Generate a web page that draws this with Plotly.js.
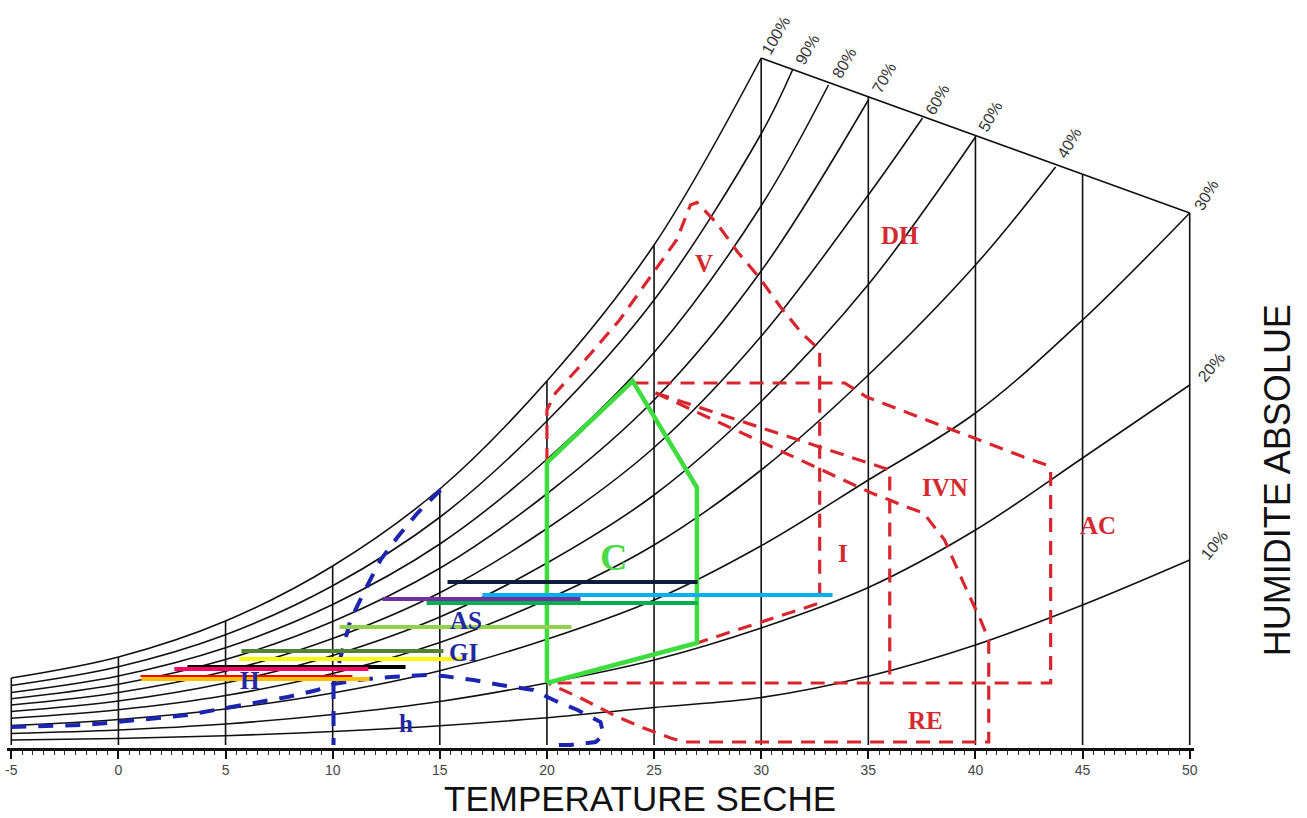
<!DOCTYPE html>
<html><head><meta charset="utf-8">
<script src="https://cdn.plot.ly/plotly-3.0.1.min.js"></script>
<style>html,body{margin:0;padding:0;background:#fff}#chart{width:1307px;height:818px}</style>
</head><body><div id="chart"></div>
<script>
// ---- axis / grid ----
const tickVals = [-5,0,5,10,15,20,25,30,35,40,45,50];
const tickLabels = ['-5','0','5','10','15','20','25','30','35','40','45','50'];
const gridTemps = [-5,0,5,10,15,20,25,30,35,40,45,50];
const gridTops  = [2.68,3.52,4.96,7.16,10.24,14.56,20.0,27.48,25.93,24.38,22.83,21.28];

// ---- relative humidity curves (temperature, absolute humidity) ----
const rhNames = ['100%','90%','80%','70%','60%','50%','40%','30%','20%','10%'];
const rh100T = [-5,0,5,10,15,20,25,30];
const rh100Y = [2.68,3.52,4.96,7.16,10.24,14.56,20.0,27.48];
const rh90T = [-5,0,5,10,15,20,25,30,31.46];
const rh90Y = [2.38,3.13,4.41,6.37,9.11,12.96,17.8,24.45,27.0];
const rh80T = [-5,0,5,10,15,20,25,30,33.14];
const rh80Y = [2.1,2.76,3.89,5.62,8.04,11.43,15.7,21.57,26.4];
const rh70T = [-5,0,5,10,15,20,25,30,35];
const rh70Y = [1.85,2.43,3.42,4.94,7.07,10.05,13.8,18.96,25.8];
const rh60T = [-5,0,5,10,15,20,25,30,35,37.53];
const rh60Y = [1.6,2.1,2.95,4.26,6.09,8.66,11.9,16.35,22.0,25.08];
const rh50T = [-5,0,5,10,15,20,25,30,35,40];
const rh50Y = [1.34,1.76,2.48,3.58,5.12,7.28,10.0,13.74,18.42,24.32];
const rh40T = [-5,0,5,10,15,20,25,30,35,40,43.74];
const rh40Y = [1.07,1.41,1.98,2.86,4.1,5.82,8.0,11.0,14.8,19.2,23.12];
const rh30T = [-5,0,5,10,15,20,25,30,35,40,45,50];
const rh30Y = [0.78,1.02,1.44,2.08,2.97,4.23,5.8,7.97,10.6,13.28,17.0,21.28];
const rh20T = [-5,0,5,10,15,20,25,30,35,40,45,50];
const rh20Y = [0.46,0.6,0.84,1.22,1.74,2.48,3.4,4.68,6.3,8.6,11.48,14.4];
const rh10T = [-5,0,5,10,15,20,25,30,35,40,45,50];
const rh10Y = [0.2,0.26,0.37,0.54,0.77,1.09,1.5,1.9,2.75,4.0,5.6,7.4];
const topEdgeT = [30,50];
const topEdgeY = [27.48,21.28];

// RH label positions
const rhLabelT = [30.67,32.17,33.85,35.71,38.24,40.71,44.35,50.75,50.98,51.12];
const rhLabelY = [28.4,27.8,27.28,26.68,25.8,25.12,24.08,22.0,15.12,8.0];
const rhLabelAngle = [-60,-60,-60,-60,-60,-60,-60,-60,-50,-50];

// ---- comfort zone C ----
const zoneCT = [20,20,24,26.5,27,27,20];
const zoneCY = [2.48,11.3,14.56,11.0,10.3,4.08,2.48];

// ---- red strategy zones ----
const zoneVT = [20,20,20.4,21.38,23.39,25.07,26.05,26.7,27.0,27.92,28.9,29.93,30.9,31.89,32.73,32.73,27.0];
const zoneVY = [11.32,13.4,14.08,15.0,17.0,19.0,20.2,21.6,21.7,20.88,19.72,18.68,17.52,16.48,15.8,5.68,4.08];
const zoneACT = [24.09,33.9,34.92,39.26,42.25,43.32,43.51,43.51,20.03];
const zoneACY = [14.48,14.48,13.92,12.48,11.52,11.2,11.0,2.48,2.48];
const zoneIVNaT = [25.07,36.0,36.0];
const zoneIVNaY = [14.08,11.0,2.48];
const zoneIVNbT = [25.07,29.09,35.15,36.0,36.55,37.58,38.56,39.59,40.24,40.62,40.62,26.38,25.77,24.51,23.3,21.57,20.5,20.03];
const zoneIVNbY = [14.08,12.48,10.08,9.8,9.6,9.28,8.2,6.2,5.0,4.2,0.12,0.12,0.28,0.68,1.12,1.88,2.32,2.48];

// ---- blue strategy zones ----
const zoneHT = [-5,-1.63,-0.05,1.82,3.22,4.76,6.3,7.89,9.29,10.04,11.16,12.7,14.43,15.17,16.57,17.83,19.37,20.31,21.43,22.5,22.64,22.27,21.1,20.03];
const zoneHY = [0.72,0.8,0.92,1.08,1.2,1.44,1.68,1.92,2.2,2.44,2.6,2.72,2.8,2.76,2.6,2.4,2.2,1.8,1.4,0.92,0.4,0.12,0,0];
const zoneSplitT = [10.04,10.04];
const zoneSplitY = [2.44,0];
const zoneGIT = [15.03,13.96,13.03,12.23,11.44,10.83,10.46,10.22,10.04];
const zoneGIY = [10.2,9.28,8.32,7.4,6.08,5.0,3.8,3.0,2.44];

// ---- zone labels ----
const redLabels = ['V','DH','I','IVN','AC','RE'];
const redLabelT = [27.31,36.5,33.8,38.6,45.7,37.68];
const redLabelY = [19.28,20.4,7.68,10.32,8.8,1.0];
const blueLabels = ['AS','GI','H','h'];
const blueLabelT = [16.2,16.1,6.16,13.4];
const blueLabelY = [5.0,3.72,2.6,0.88];

// ---- coloured horizontal climate lines ----
const climColors = ['#0d1b3d','#00b0f0','#7030a0','#00b050','#92d050','#548235','#ffff00','#000000','#ff0066','#ffc000','#ff0000'];
const climStartT = [15.36,16.99,12.32,14.38,10.32,5.74,5.65,3.22,2.61,1.07,1.03];
const climEndT   = [27.03,33.33,21.57,27.03,21.15,15.17,16.11,13.4,11.67,11.72,10.92];
const climY      = [6.52,6.0,5.84,5.68,4.72,3.76,3.44,3.12,3.04,2.64,2.76];
const climWidth  = [4,4,4,4,4,4,4,4,4,4,2];

// ---------------------------------------------------------------
const xRange = [-5.2,50.2];
const traces = [];
const rhT = [rh100T,rh90T,rh80T,rh70T,rh60T,rh50T,rh40T,rh30T,rh20T,rh10T];
const rhY = [rh100Y,rh90Y,rh80Y,rh70Y,rh60Y,rh50Y,rh40Y,rh30Y,rh20Y,rh10Y];
rhT.forEach((t,i)=>traces.push({x:t,y:rhY[i],mode:'lines',name:rhNames[i],
  line:{color:'#111',width:1.6,shape:'spline',smoothing:1}}));
traces.push({x:topEdgeT,y:topEdgeY,mode:'lines',line:{color:'#111',width:1.6}});
const vx=[],vy=[];
gridTemps.forEach((t,i)=>{vx.push(t,t,null);vy.push(0,gridTops[i],null);});
traces.push({x:vx,y:vy,mode:'lines',line:{color:'#111',width:1.6}});

const red = '#d8262e', redDash='14px,9px';
[[zoneVT,zoneVY],[zoneACT,zoneACY],[zoneIVNaT,zoneIVNaY],[zoneIVNbT,zoneIVNbY]].forEach(z=>
  traces.push({x:z[0],y:z[1],mode:'lines',line:{color:red,width:3.2,dash:redDash}}));
const blue = '#1c25b0', blueDash='15px,12px';
[[zoneHT,zoneHY],[zoneSplitT,zoneSplitY],[zoneGIT,zoneGIY]].forEach(z=>
  traces.push({x:z[0],y:z[1],mode:'lines',line:{color:blue,width:4,dash:blueDash}}));
traces.push({x:zoneCT,y:zoneCY,mode:'lines',line:{color:'#3fdc3f',width:4.5}});

climColors.forEach((c,i)=>traces.push({x:[climStartT[i],climEndT[i]],y:[climY[i],climY[i]],
  mode:'lines',line:{color:c,width:climWidth[i]}}));

const yRange = [-0.12,29];
const toPaperX = t => (t-xRange[0])/(xRange[1]-xRange[0]);
const toPaperY = v => (v-yRange[0])/(yRange[1]-yRange[0]);
const ann = [];
rhNames.forEach((n,i)=>ann.push({x:toPaperX(rhLabelT[i]),y:toPaperY(rhLabelY[i]),xref:'paper',yref:'paper',
  xanchor:'center',yanchor:'middle',text:n,showarrow:false,
  textangle:rhLabelAngle[i],font:{family:'Liberation Sans, Arial',size:16,color:'#333'}}));
redLabels.forEach((n,i)=>ann.push({x:redLabelT[i],y:redLabelY[i],xref:'x',yref:'y',text:'<b>'+n+'</b>',showarrow:false,
  font:{family:'Liberation Serif, Times New Roman',size:25,color:'#d42a2f'}}));
blueLabels.forEach((n,i)=>ann.push({x:blueLabelT[i],y:blueLabelY[i],xref:'x',yref:'y',text:'<b>'+n+'</b>',showarrow:false,
  font:{family:'Liberation Serif, Times New Roman',size:25,color:'#2228a0'}}));
ann.push({x:23.1,y:7.52,xref:'x',yref:'y',text:'<b>C</b>',showarrow:false,
  font:{family:'Liberation Serif, Times New Roman',size:38,color:'#4cd94c'}});
ann.push({x:0.533,y:-0.069,xref:'paper',yref:'paper',xanchor:'center',yanchor:'middle',text:'TEMPERATURE SECHE',showarrow:false,
  font:{family:'Liberation Sans, Arial',size:35,color:'#111'}});
ann.push({x:1.07,y:0.368,xref:'paper',yref:'paper',xanchor:'center',yanchor:'middle',text:'HUMIDITE ABSOLUE',showarrow:false,textangle:-90,
  font:{family:'Liberation Sans, Arial',size:36,color:'#111'}});

const layout = {
  width:1307,height:818,margin:{l:7,r:113,t:20,b:70},
  paper_bgcolor:'#fff',plot_bgcolor:'#fff',showlegend:false,hovermode:false,
  xaxis:{range:xRange,tickvals:tickVals,ticktext:tickLabels,ticks:'outside',ticklen:8,tickwidth:2,
    tickcolor:'#111',showline:true,linecolor:'#111',linewidth:2.5,showgrid:false,zeroline:false,
    tickfont:{family:'Liberation Sans, Arial',size:14,color:'#444'},
    minor:{dtick:0.5,ticks:'outside',ticklen:4,tickcolor:'#333',tickwidth:1,showgrid:false}},
  yaxis:{range:yRange,showticklabels:false,showgrid:false,zeroline:false,showline:false,ticks:''},
  annotations:ann
};
Plotly.newPlot('chart',traces,layout,{staticPlot:true});
</script></body></html>
